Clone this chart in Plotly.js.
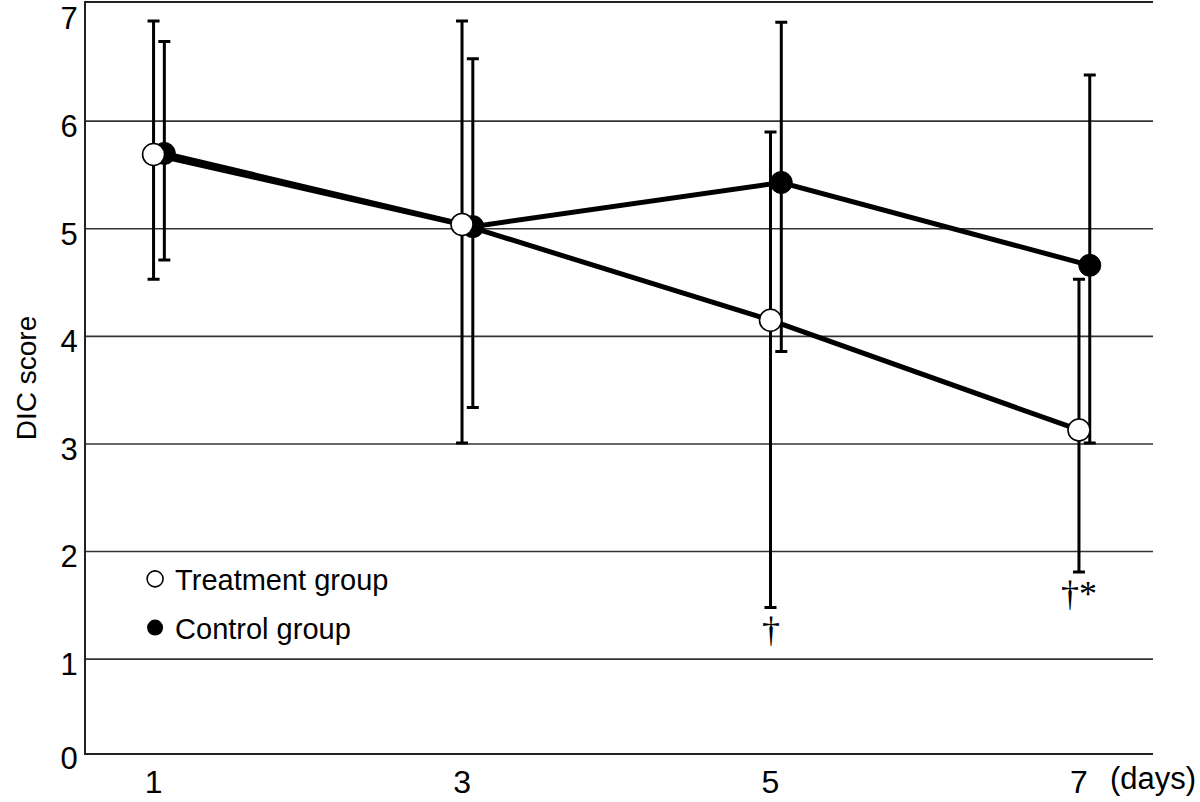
<!DOCTYPE html>
<html>
<head>
<meta charset="utf-8">
<script src="https://cdn.plot.ly/plotly-3.0.1.min.js"></script>
<style>html,body{margin:0;padding:0;background:#fff;}#chart{width:1200px;height:802px;}</style>
</head>
<body>
<div id="chart"></div>
<script>
// ---- data ----
const days = [1, 3, 5, 7];
const treatMean  = [5.69, 5.04, 4.15, 3.13];
const treatUpper = [6.93, 6.93, 5.90, 4.53];
const treatLower = [4.53, 3.01, 1.48, 1.81];
const ctrlMean   = [5.70, 5.02, 5.43, 4.66];
const ctrlUpper  = [6.74, 6.58, 6.92, 6.43];
const ctrlLower  = [4.71, 3.34, 3.86, 3.01];
const yTickText  = ['0', '1', '2', '3', '4', '5', '6', '7'];
const xTickText  = ['1', '3', '5', '7'];
const gridValues = [1, 2, 3, 4, 5, 6];
const seriesNames = ['Treatment group', 'Control group'];
const marks = [
  {day: 5, base: treatLower[2], text: '†'},
  {day: 7, base: treatLower[3], text: '†*'}
];

// ---- build ----
const dodge = 0.07;
const ctrlX = days.map(d => d + dodge);
const yBottom = 0.128, yTop = 7.098;
const yTickVals = [yBottom, 1, 2, 3, 4, 5, 6, 7];

function errs(mean, up, lo) {
  return {
    type: 'data', symmetric: false,
    array: up.map((u, i) => +(u - mean[i]).toFixed(3)),
    arrayminus: lo.map((l, i) => +(mean[i] - l).toFixed(3)),
    color: '#000', thickness: 3, width: 6
  };
}

const control = {
  x: ctrlX, y: ctrlMean, type: 'scatter', mode: 'lines+markers',
  showlegend: false,
  line: {color: '#000', width: 5},
  marker: {symbol: 'circle', size: 22, color: '#000', line: {color: '#000', width: 1}},
  error_y: errs(ctrlMean, ctrlUpper, ctrlLower)
};
const treatment = {
  x: days, y: treatMean, type: 'scatter', mode: 'lines+markers',
  showlegend: false,
  line: {color: '#000', width: 5},
  marker: {symbol: 'circle', size: 22, color: '#fff', line: {color: '#000', width: 1.6}},
  error_y: errs(treatMean, treatUpper, treatLower)
};
const legT = {
  x: [null], y: [null], type: 'scatter', mode: 'markers', name: seriesNames[0],
  legendgroup: 'a',
  marker: {symbol: 'circle', size: 22, color: '#fff', line: {color: '#000', width: 1.6}}
};
const legC = {
  x: [null], y: [null], type: 'scatter', mode: 'markers', name: seriesNames[1],
  legendgroup: 'b',
  marker: {symbol: 'circle', size: 22, color: '#000'}
};

const shapes = gridValues.map(v => ({
  type: 'line', xref: 'paper', x0: 0, x1: 1, yref: 'y', y0: v, y1: v,
  line: {color: '#333', width: 1.6}, layer: 'below'
}));

const annotations = marks.map(m => ({
  x: m.day, y: m.base, xref: 'x', yref: 'y', text: m.text, showarrow: false,
  yanchor: 'top', xanchor: 'center', yshift: 0,
  font: {family: 'Liberation Serif, DejaVu Serif, serif', size: 36, color: '#000'}
}));
annotations.push({
  x: 1, y: 0, xref: 'paper', yref: 'paper', text: '(days)', showarrow: false,
  xanchor: 'center', yanchor: 'middle', yshift: -25,
  font: {family: 'Liberation Sans, Arial, sans-serif', size: 31, color: '#000'}
});

const layout = {
  width: 1200, height: 802,
  margin: {l: 86, r: 47, t: 3, b: 49},
  paper_bgcolor: '#fff', plot_bgcolor: '#fff',
  font: {family: 'Liberation Sans, Arial, sans-serif', color: '#000'},
  xaxis: {
    range: [0.562, 7.48], tickvals: days, ticktext: xTickText,
    showgrid: false, zeroline: false, showline: true, mirror: true,
    linecolor: '#222', linewidth: 2, ticks: '',
    tickfont: {size: 32, color: '#000'}, automargin: false
  },
  yaxis: {
    range: [yBottom, yTop], tickvals: yTickVals, ticktext: yTickText,
    showgrid: false, zeroline: false, showline: true, linecolor: '#222', linewidth: 2,
    ticks: '', tickfont: {size: 31, color: '#000'}, automargin: false,
    ticklabeloverflow: 'allow', ticklabelshift: 5,
    title: {text: 'DIC score', font: {size: 28, color: '#000'}, standoff: 16}
  },
  showlegend: true,
  legend: {
    x: 0.046, y: 0.266, xanchor: 'left', yanchor: 'top',
    bgcolor: 'rgba(0,0,0,0)', borderwidth: 0,
    font: {size: 29, color: '#000'},
    traceorder: 'grouped', tracegroupgap: 8, itemsizing: 'trace'
  },
  shapes: shapes,
  annotations: annotations
};

Plotly.newPlot('chart', [control, treatment, legT, legC], layout, {displayModeBar: false, staticPlot: true});
</script>
</body>
</html>
